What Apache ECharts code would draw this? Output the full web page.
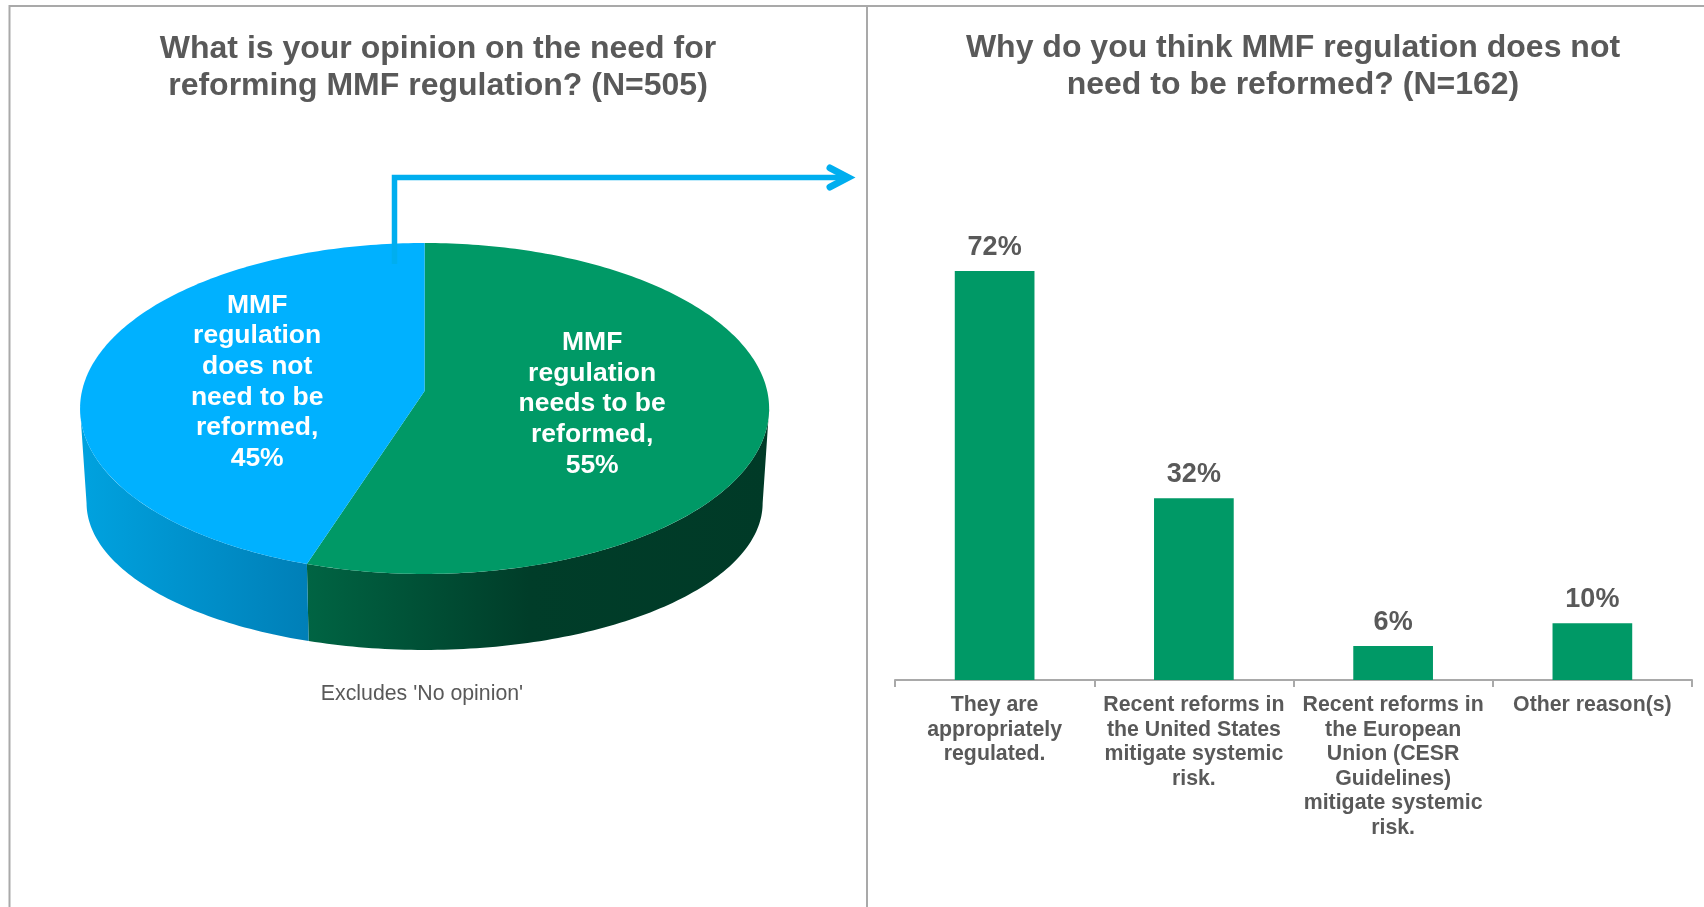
<!DOCTYPE html>
<html>
<head>
<meta charset="utf-8">
<style>html,body{margin:0;padding:0;background:#fff}#chart{width:1704px;height:907px}</style>
<script src="https://cdn.jsdelivr.net/npm/echarts@6/dist/echarts.min.js"></script>
</head>
<body>
<div id="chart"></div>
<script>
// Opinion split shown in the tilted pie (clockwise from 12 o'clock: needs reform, then no reform)
const pieNames = ['MMF\nregulation\nneeds to be\nreformed,', 'MMF\nregulation\ndoes not\nneed to be\nreformed,'];
const pieValues = [55, 45];
const pieTop = ['#009966', '#00B1FF'];
const pieWall = [
  [[0, '#006443'], [0.48, '#003D29'], [1, '#003A27']],
  [[0, '#00A2DF'], [1, '#007FB7']]
];

// Reasons shown in the bar panel
const barCategories = [
  'They are\nappropriately\nregulated.',
  'Recent reforms in\nthe United States\nmitigate systemic\nrisk.',
  'Recent reforms in\nthe European\nUnion (CESR\nGuidelines)\nmitigate systemic\nrisk.',
  'Other reason(s)'
];
const barValues = [72, 32, 6, 10];

const titleLeft = 'What is your opinion on the need for\nreforming MMF regulation? (N=505)';
const titleRight = 'Why do you think MMF regulation does not\nneed to be reformed? (N=162)';
const footnote = "Excludes 'No opinion'";

const GREY = '#595959';
const RULE = '#A9A9A9';
const FONT = '"Liberation Sans", Arial, sans-serif';

// Perspective discs: unit circles seen from above, with the nearer edge larger.
// faceDisc is the top surface, baseDisc the lower rim of the wall.
const faceDisc = { cx: 424.6, cy: 391, rx: 342.6, ry: 163.6, persp: -0.1057 };
const baseDisc = { cx: 424.6, cy: 486.8, rx: 336, ry: 145.2, persp: -0.11 };

function project(d, turn, k) {
  const a = turn * 2 * Math.PI;
  const u = Math.sin(a), v = -Math.cos(a);
  const w = 1 + d.persp * v;
  return [d.cx + k * d.rx * u / w, d.cy + k * d.ry * v / w];
}
function arc(d, from, to) {
  const pts = [];
  const n = Math.max(8, Math.ceil((to - from) * 360));
  for (let i = 0; i <= n; i++) pts.push(project(d, from + (to - from) * i / n, 1));
  return pts;
}
// Turn at which a disc is widest: the wall is only visible on the near side of it
function sideTurn(d) {
  return Math.acos(d.persp) / (2 * Math.PI);
}
function nearArc(d, from, to) {
  return arc(d, Math.max(from, sideTurn(d)), Math.min(to, 1 - sideTurn(d)));
}

const total = pieValues.reduce((s, v) => s + v, 0);
const labelY = [404, 382];
const labelReach = [0.487, 0.503];

function renderSlice(params, api) {
  const i = params.dataIndex;
  const before = pieValues.slice(0, i).reduce((s, v) => s + v, 0);
  const from = before / total;
  const to = (before + api.value(0)) / total;
  const mid = (from + to) / 2;
  const top = arc(faceDisc, from, to);
  const wallTop = nearArc(faceDisc, from, to);
  const wallLow = nearArc(baseDisc, from, to);
  const seamX = project(baseDisc, pieValues[0] / total, 1)[0];
  const grad = i === 0 ? [seamX, faceDisc.cx + faceDisc.rx] : [faceDisc.cx - faceDisc.rx, seamX];
  const labelX = project(faceDisc, mid, labelReach[i])[0];
  return {
    type: 'group',
    children: [
      {
        type: 'polygon',
        z2: 1,
        shape: { points: wallTop.concat(wallLow.reverse()) },
        style: {
          fill: {
            type: 'linear', global: true, x: grad[0], y: 0, x2: grad[1], y2: 0,
            colorStops: pieWall[i].map(s => ({ offset: s[0], color: s[1] }))
          }
        }
      },
      {
        type: 'polygon',
        z2: 2,
        shape: { points: [[faceDisc.cx, faceDisc.cy]].concat(top) },
        style: { fill: pieTop[i] }
      },
      {
        type: 'text',
        z2: 3,
        x: labelX,
        y: labelY[i],
        style: {
          text: pieNames[i] + '\n' + api.value(0) + '%',
          fill: '#fff',
          font: 'bold 26.5px ' + FONT,
          lineHeight: 30.7,
          align: 'center',
          verticalAlign: 'middle'
        }
      }
    ]
  };
}

const chart = echarts.init(document.getElementById('chart'));
chart.setOption({
  animation: false,
  backgroundColor: '#fff',
  title: [
    { text: titleLeft, left: 433, top: 26, textAlign: 'center',
      textStyle: { color: GREY, fontFamily: FONT, fontWeight: 'bold', fontSize: 32, lineHeight: 37 } },
    { text: titleRight, left: 1288, top: 25, textAlign: 'center',
      textStyle: { color: GREY, fontFamily: FONT, fontWeight: 'bold', fontSize: 32, lineHeight: 37 } }
  ],
  grid: { left: 895, width: 797, top: 225.6, height: 454.4 },
  xAxis: {
    type: 'category',
    data: barCategories,
    axisLine: { lineStyle: { color: RULE, width: 2 } },
    axisTick: { show: true, length: 7, lineStyle: { color: RULE, width: 2 } },
    axisLabel: {
      interval: 0, margin: 13, color: GREY, fontFamily: FONT, fontWeight: 'bold',
      fontSize: 21.3, lineHeight: 24.5, align: 'center', verticalAlign: 'top'
    }
  },
  yAxis: { type: 'value', min: 0, max: 80, show: false },
  series: [
    {
      type: 'bar',
      data: barValues,
      barWidth: '40%',
      itemStyle: { color: '#009966' },
      label: {
        show: true, position: 'top', distance: 10, formatter: '{c}%',
        color: GREY, fontFamily: FONT, fontWeight: 'bold', fontSize: 27
      }
    },
    {
      type: 'custom',
      coordinateSystem: 'none',
      data: pieValues.map(v => [v]),
      renderItem: renderSlice,
      silent: true,
      z: 3
    }
  ],
  graphic: [
    { type: 'polyline', z: 1, silent: true,
      shape: { points: [[9.5, 907], [9.5, 6], [1704, 6]] },
      style: { stroke: RULE, lineWidth: 2, fill: null } },
    { type: 'line', z: 1, silent: true,
      shape: { x1: 867, y1: 6, x2: 867, y2: 907 },
      style: { stroke: RULE, lineWidth: 2 } },
    // Connector from the "no reform" slice across to the bar panel
    { type: 'polyline', z: 10, silent: true,
      shape: { points: [[394.5, 264], [394.5, 177.5], [847, 177.5]] },
      style: { stroke: '#00AEEF', lineWidth: 5.5, fill: null } },
    { type: 'polyline', z: 10, silent: true,
      shape: { points: [[830, 168], [848, 177.5], [830, 187]] },
      style: { stroke: '#00AEEF', lineWidth: 7, lineCap: 'round', lineJoin: 'miter', fill: null } },
    { type: 'text', z: 10, silent: true, x: 422, y: 694,
      style: { text: footnote, fill: GREY, font: '21.3px ' + FONT, align: 'center', verticalAlign: 'middle' } }
  ]
});
</script>
</body>
</html>
